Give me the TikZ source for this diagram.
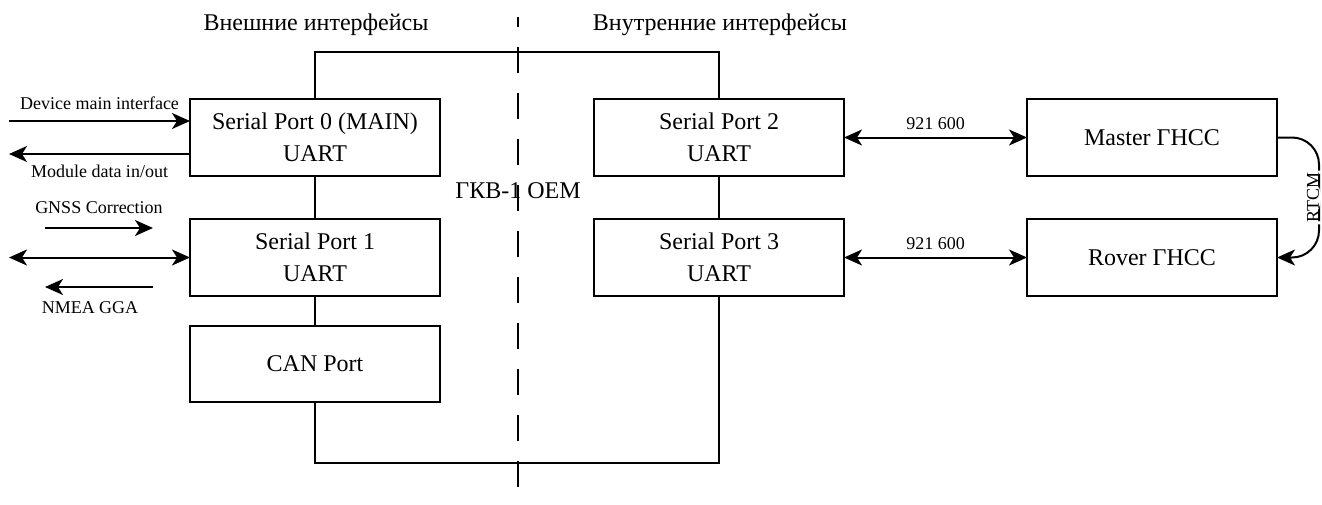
\documentclass[tikz,border=0pt]{standalone}
\usepackage{fontspec}
\setmainfont{Liberation Serif}
\usetikzlibrary{positioning}
\usetikzlibrary{arrows.meta}
\tikzset{%
  myline/.style={line width=1pt},
  myedge/.style={->, myline, >={Stealth[length=9pt, width=8pt, inset=2.5pt]}},
  mybiedge/.style={myedge, <->},
  myport/.style={rectangle, draw=black, line width=1.4pt, outer sep=0pt,
    minimum width=125pt, minimum height=38.5pt, inner sep=0pt,
    align=center, font=\fontsize{12}{16}\selectfont},
  mylabel/.style={font=\fontsize{9}{11}\selectfont, anchor=base, inner sep=0pt},
  mytitle/.style={font=\fontsize{12}{14}\selectfont, anchor=base, inner sep=0pt}
}

\begin{document}
\begin{tikzpicture}[x=0.5pt, y=-0.5pt]
  \useasboundingbox (0,0) rectangle (1322,504);
  % ports of the module
  \node[myport] (sp0) at (315,137.5) {Serial Port 0 (MAIN)\\UART};
  \node[myport, below=21.5pt of sp0] (sp1) {Serial Port 1\\UART};
  \node[myport, below=15pt of sp1, minimum height=38pt] (can) {CAN Port};
  \node[myport, right=77pt of sp0] (sp2) {Serial Port 2\\UART};
  \node[myport, right=77pt of sp1] (sp3) {Serial Port 3\\UART};
  % receivers
  \node[myport, right=91.5pt of sp2] (master) {Master ГНСС};
  \node[myport, right=91.5pt of sp3] (rover) {Rover ГНСС};

  % module outline through the ports
  \coordinate (top) at (518,52);
  \coordinate (bot) at (518,463);
  \draw[myline] (sp0.north) |- (top) -| (sp2.north);
  \draw[myline] (sp0) -- (sp1);
  \draw[myline] (sp1) -- (can);
  \draw[myline] (sp2) -- (sp3);
  \draw[myline] (can.south) |- (bot) -| (sp3.south);

  % split line and headings
  \coordinate (divA) at (518,17);
  \coordinate (divB) at (518,504);
  \draw[myline, dash pattern=on 13pt off 10pt, dash phase=8pt] (divA) -- (divB);
  \node[mytitle] (extT) at (316,30) {Внешние интерфейсы};
  \node[mytitle] (intT) at (720,30) {Внутренние интерфейсы};
  \node[mytitle] (oem) at (518,198) {ГКВ-1 OEM};

  % external links
  \coordinate (devIn) at (9,121);
  \coordinate (modOut) at (9,154);
  \draw[myedge] (devIn) -- (devIn -| sp0.west)
    node[mylabel, midway, yshift=6pt] {Device main interface};
  \draw[myedge] (modOut -| sp0.west) -- (modOut)
    node[mylabel, midway, yshift=-11.5pt] {Module data in/out};
  \coordinate (gncA) at (45,228);
  \coordinate (gncB) at (153,228);
  \draw[myedge] (gncA) -- (gncB)
    node[mylabel, midway, yshift=7.5pt] {GNSS Correction};
  \coordinate (sp1Ext) at (9,257.5);
  \draw[mybiedge] (sp1Ext) -- (sp1.west);
  \coordinate (ggaA) at (153,287);
  \coordinate (ggaB) at (45,287);
  \draw[myedge] (ggaA) -- (ggaB)
    node[mylabel, midway, yshift=-13pt, xshift=-4.5pt] {NMEA GGA};

  % internal links
  \draw[mybiedge] (sp2) -- (master) node[mylabel, midway, yshift=4pt] {921 600};
  \draw[mybiedge] (sp3) -- (rover) node[mylabel, midway, yshift=4pt] {921 600};
  \draw[myedge, rounded corners=13.5pt] (master.east) -- ++(42,0) coordinate (rtcm)
    -- (rtcm |- rover.east)
    node[midway, xshift=-3pt, rotate=90, fill=white, inner sep=1pt,
      font=\fontsize{9}{11}\selectfont] {RTCM}
    -- (rover.east);
\end{tikzpicture}
\end{document}
